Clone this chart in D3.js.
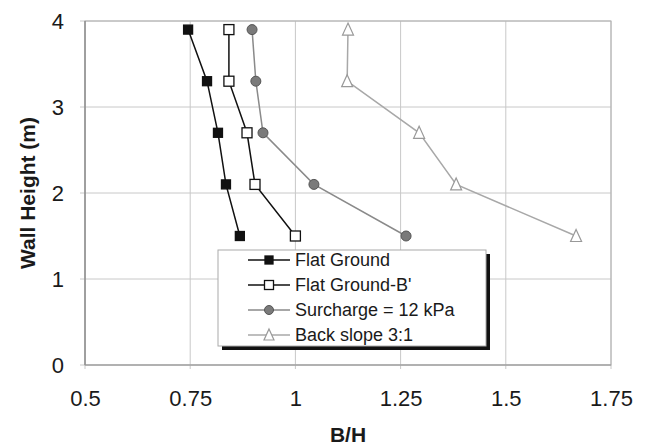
<!DOCTYPE html>
<html>
<head>
<meta charset="utf-8">
<script src="https://cdn.jsdelivr.net/npm/d3@7"></script>
<style>
  body { margin: 0; background: #fff; }
  svg { display: block; font-family: "Liberation Sans", Arial, sans-serif; }
</style>
</head>
<body>
<svg id="chart" width="645" height="447"></svg>
<script>

// wall heights (m) and B/H ratios
var heights = [3.9, 3.3, 2.7, 2.1, 1.5];
var flatGround = [0.745, 0.79, 0.816, 0.835, 0.868];
var flatGroundB = [0.842, 0.842, 0.885, 0.904, 1.0];
var surcharge = [0.897, 0.906, 0.923, 1.044, 1.263];
var backSlope = [1.125, 1.123, 1.294, 1.382, 1.667];

var seriesNames = ["Flat Ground", "Flat Ground-B'", "Surcharge = 12 kPa", "Back slope 3:1"];
var xTicks = [0.5, 0.75, 1, 1.25, 1.5, 1.75];
var yTicks = [0, 1, 2, 3, 4];

var width = 645,
    height = 447,
    margin = {top: 21, right: 34, bottom: 82, left: 85};

var svg = d3.select("#chart");

var xScale = d3.scaleLinear()
    .domain([0.5, 1.75])
    .range([margin.left, width - margin.right]);

var yScale = d3.scaleLinear()
    .domain([0, 4])
    .range([height - margin.bottom, margin.top]);

// gridlines
svg.append("g")
    .attr("class", "grid")
    .selectAll("line.gx")
    .data(xTicks)
  .enter().append("line")
    .attr("x1", function(d) { return xScale(d); })
    .attr("x2", function(d) { return xScale(d); })
    .attr("y1", yScale(0) + 4)
    .attr("y2", yScale(4))
    .style("stroke", "#c8c8c8")
    .style("stroke-width", 1);

svg.append("g")
    .attr("class", "grid")
    .selectAll("line.gy")
    .data(yTicks)
  .enter().append("line")
    .attr("x1", xScale(0.5) - 5)
    .attr("x2", xScale(1.75))
    .attr("y1", function(d) { return yScale(d); })
    .attr("y2", function(d) { return yScale(d); })
    .style("stroke", "#c8c8c8")
    .style("stroke-width", 1);

// plot frame
svg.append("rect")
    .attr("x", xScale(0.5))
    .attr("y", yScale(4))
    .attr("width", xScale(1.75) - xScale(0.5))
    .attr("height", yScale(0) - yScale(4))
    .style("fill", "none")
    .style("stroke", "#b0b0b0");

svg.append("line")
    .attr("x1", xScale(0.5)).attr("x2", xScale(0.5))
    .attr("y1", yScale(4)).attr("y2", yScale(0))
    .style("stroke", "#777");

svg.append("line")
    .attr("x1", xScale(0.5)).attr("x2", xScale(1.75))
    .attr("y1", yScale(0)).attr("y2", yScale(0))
    .style("stroke", "#999");

// axes (labels only, lines drawn above)
var xAxis = d3.axisBottom(xScale)
    .tickValues(xTicks)
    .tickSize(0)
    .tickPadding(25)
    .tickFormat(function(d) { return d; });

var yAxis = d3.axisLeft(yScale)
    .tickValues(yTicks)
    .tickSize(0)
    .tickPadding(21)
    .tickFormat(d3.format("d"));

svg.append("g")
    .attr("class", "x axis")
    .attr("transform", "translate(0," + yScale(0) + ")")
    .call(xAxis);

svg.append("g")
    .attr("class", "y axis")
    .attr("transform", "translate(" + xScale(0.5) + ",0)")
    .call(yAxis);

svg.selectAll(".axis path").remove();
svg.selectAll(".axis text")
    .attr("font-size", 22)
    .style("font-family", "'Liberation Sans', Arial, sans-serif")
    .style("fill", "#1a1a1a");
svg.selectAll(".y.axis text").attr("dy", "0.36em");

// axis titles
svg.append("text")
    .attr("x", (xScale(0.5) + xScale(1.75)) / 2)
    .attr("y", 442)
    .attr("text-anchor", "middle")
    .attr("font-size", 21)
    .attr("font-weight", "bold")
    .style("fill", "#1a1a1a")
    .text("B/H");

svg.append("text")
    .attr("transform", "translate(35," + yScale(2) + ") rotate(-90)")
    .attr("text-anchor", "middle")
    .attr("font-size", 21)
    .attr("font-weight", "bold")
    .style("fill", "#1a1a1a")
    .text("Wall Height (m)");

// series
var styles = [
  {line: "#111", marker: "square", fill: "#111", stroke: "#111", size: 9},
  {line: "#111", marker: "square", fill: "#fff", stroke: "#111", size: 10},
  {line: "#8a8a8a", marker: "circle", fill: "#7a7a7a", stroke: "#555", size: 10},
  {line: "#a8a8a8", marker: "triangle", fill: "#fff", stroke: "#999", size: 11}
];

var allSeries = [flatGround, flatGroundB, surcharge, backSlope];

var line = d3.line()
    .x(function(d) { return xScale(d[0]); })
    .y(function(d) { return yScale(d[1]); });

function drawMarker(g, type, s, st) {
  if (type === "square") {
    g.append("rect")
        .attr("x", -s / 2).attr("y", -s / 2)
        .attr("width", s).attr("height", s)
        .style("fill", st.fill).style("stroke", st.stroke).style("stroke-width", 1.3);
  } else if (type === "circle") {
    g.append("circle")
        .attr("r", s / 2)
        .style("fill", st.fill).style("stroke", st.stroke).style("stroke-width", 1);
  } else {
    g.append("path")
        .attr("d", "M0," + (-s / 2 - 1) + "L" + (s / 2) + "," + (s / 2) + "L" + (-s / 2) + "," + (s / 2) + "Z")
        .style("fill", st.fill).style("stroke", st.stroke).style("stroke-width", 1.2);
  }
}

allSeries.forEach(function(vals, i) {
  var pts = vals.map(function(v, j) { return [v, heights[j]]; });
  var st = styles[i];

  svg.append("path")
      .datum(pts)
      .attr("d", line)
      .style("fill", "none")
      .style("stroke", st.line)
      .style("stroke-width", 1.5);

  svg.selectAll(".m" + i)
      .data(pts)
    .enter().append("g")
      .attr("class", "m" + i)
      .attr("transform", function(d) { return "translate(" + xScale(d[0]) + "," + yScale(d[1]) + ")"; })
      .each(function() { drawMarker(d3.select(this), st.marker, st.size, st); });
});

// legend
var legend = svg.append("g")
    .attr("transform", "translate(218,250)");

legend.append("rect")
    .attr("x", 4).attr("y", 4)
    .attr("width", 268).attr("height", 96)
    .style("fill", "#111");

legend.append("rect")
    .attr("width", 268).attr("height", 96)
    .style("fill", "#fff")
    .style("stroke", "#aaa")
    .style("stroke-width", 1);

seriesNames.forEach(function(name, i) {
  var row = legend.append("g")
      .attr("transform", "translate(0," + (10 + i * 25) + ")");
  var st = styles[i];

  row.append("line")
      .attr("x1", 30).attr("x2", 72)
      .style("stroke", st.line)
      .style("stroke-width", 1.5);

  var m = row.append("g").attr("transform", "translate(51,0)");
  drawMarker(m, st.marker, st.size - 1, st);

  row.append("text")
      .attr("x", 77)
      .attr("dy", "0.36em")
      .attr("font-size", 18)
      .style("fill", "#1a1a1a")
      .text(name);
});

</script>
</body>
</html>
